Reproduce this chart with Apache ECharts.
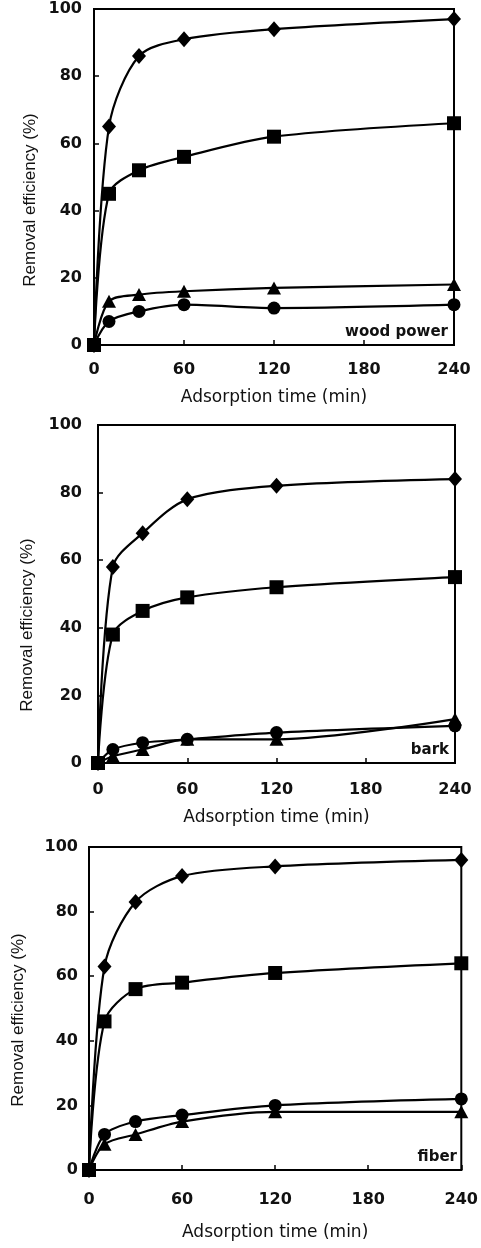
<!DOCTYPE html>
<html>
<head>
<meta charset="utf-8">
<script src="https://cdn.jsdelivr.net/npm/echarts@6/dist/echarts.min.js"></script>
<style>
  html, body { margin: 0; padding: 0; background: #fff; }
  #chart { width: 481px; height: 1248px; }
</style>
</head>
<body>
<div id="chart"></div>
<script>
// adsorption time (min)
const time = [0, 10, 30, 60, 120, 240];

// wood power
const woodDiamond = [0, 65, 86, 91, 94, 97];
const woodSquare = [0, 45, 52, 56, 62, 66];
const woodTriangle = [0, 13, 15, 16, 17, 18];
const woodCircle = [0, 7, 10, 12, 11, 12];

// bark
const barkDiamond = [0, 58, 68, 78, 82, 84];
const barkSquare = [0, 38, 45, 49, 52, 55];
const barkTriangle = [0, 2, 4, 7, 7, 13];
const barkCircle = [0, 4, 6, 7, 9, 11];

// fiber
const fiberDiamond = [0, 63, 83, 91, 94, 96];
const fiberSquare = [0, 46, 56, 58, 61, 64];
const fiberTriangle = [0, 8, 11, 15, 18, 18];
const fiberCircle = [0, 11, 15, 17, 20, 22];

const xTicks = [0, 60, 120, 180, 240];
const yTicks = [0, 20, 40, 60, 80, 100];
const panelNames = ['wood power', 'bark', 'fiber'];

const panels = [
  { name: panelNames[0], data: [woodDiamond, woodTriangle, woodCircle, woodSquare],
    grid: { left: 94, right: 27, top: 9, height: 336 }, labelMargin: 12, xLabelMargin: 17, nameGap: 44, yTitle: [30, 200] },
  { name: panelNames[1], data: [barkDiamond, barkTriangle, barkCircle, barkSquare],
    grid: { left: 98, right: 26, top: 425, height: 338 }, labelMargin: 16, xLabelMargin: 19, nameGap: 46, yTitle: [27, 625] },
  { name: panelNames[2], data: [fiberDiamond, fiberTriangle, fiberCircle, fiberSquare],
    grid: { left: 89, right: 18, top: 847, height: 323 }, labelMargin: 11, xLabelMargin: 22, nameGap: 54, yTitle: [18, 1020] }
];

const symbols = [
  { symbol: 'diamond', size: [14, 16] },
  { symbol: 'triangle', size: [14, 13] },
  { symbol: 'circle', size: 13 },
  { symbol: 'rect', size: 14 }
];

const font = 'DejaVu Sans';
const grids = [], xAxes = [], yAxes = [], series = [], graphics = [];

panels.forEach((p, i) => {
  grids.push(Object.assign({ show: true, borderColor: '#000', borderWidth: 2, backgroundColor: 'transparent' }, p.grid));
  xAxes.push({
    type: 'value', gridIndex: i, min: 0, max: xTicks[xTicks.length - 1], interval: 60,
    name: 'Adsorption time (min)', nameLocation: 'middle', nameGap: p.nameGap,
    nameTextStyle: { fontFamily: font, fontSize: 17, color: '#111' },
    axisLine: { show: true, lineStyle: { color: '#000', width: 2 } },
    axisTick: { show: true, inside: true, length: 5, lineStyle: { color: '#000', width: 1.5 } },
    axisLabel: { fontFamily: font, fontWeight: 'bold', fontSize: 16, color: '#111', margin: p.xLabelMargin },
    splitLine: { show: false }
  });
  yAxes.push({
    type: 'value', gridIndex: i, min: yTicks[0], max: yTicks[yTicks.length - 1], interval: 20,
    axisLine: { show: true, lineStyle: { color: '#000', width: 2 } },
    axisTick: { show: true, inside: true, length: 5, lineStyle: { color: '#000', width: 1.5 } },
    axisLabel: { fontFamily: font, fontWeight: 'bold', fontSize: 16, color: '#111', margin: p.labelMargin },
    splitLine: { show: false }
  });
  p.data.forEach((vals, k) => {
    series.push({
      type: 'line', xAxisIndex: i, yAxisIndex: i,
      data: time.map((t, j) => [t, vals[j]]),
      smooth: 0.3,
      symbol: symbols[k].symbol, symbolSize: symbols[k].size, showSymbol: true,
      lineStyle: { color: '#000', width: 2.2 },
      itemStyle: { color: '#000' },
      z: 2 + k, silent: true, animation: false
    });
  });
  const right = 481 - p.grid.right;
  const bottom = p.grid.top + p.grid.height;
  graphics.push({
    type: 'text', x: right - 6, y: bottom - 13,
    style: { text: p.name, fontFamily: font, fontWeight: 'bold', fontSize: 15, fill: '#111', align: 'right', verticalAlign: 'middle' }
  });
  graphics.push({
    type: 'text', x: p.yTitle[0], y: p.yTitle[1], rotation: Math.PI / 2,
    style: { text: 'Removal efficiency (%)', fontFamily: 'Liberation Sans', fontSize: 17, fill: '#111', align: 'center', verticalAlign: 'middle' }
  });
});

const chart = echarts.init(document.getElementById('chart'));
chart.setOption({
  animation: false,
  backgroundColor: '#fff',
  grid: grids,
  xAxis: xAxes,
  yAxis: yAxes,
  series: series,
  graphic: graphics
});
</script>
</body>
</html>
